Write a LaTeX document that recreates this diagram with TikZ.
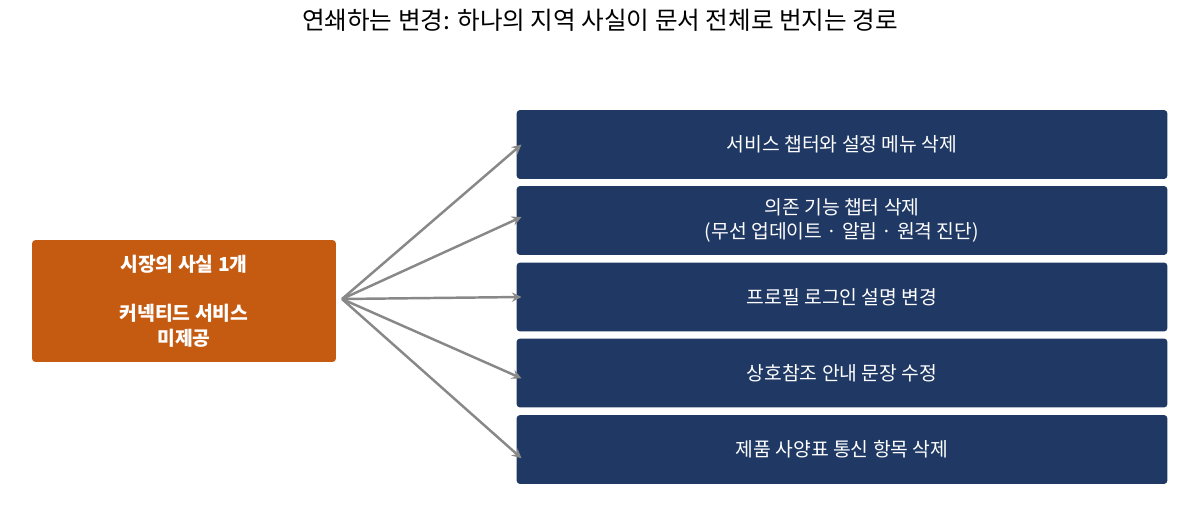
\documentclass[tikz,border=0pt]{standalone}
\usepackage{fontspec}
\setmainfont{Noto Sans CJK KR}
\usetikzlibrary{positioning}
\definecolor{factorange}{HTML}{C55A11}
\definecolor{effectnavy}{HTML}{1F3864}
\definecolor{linkgray}{HTML}{888888}
\tikzset{
  fact/.style={fill=factorange, rounded corners=2pt, text=white, font=\bfseries\fontsize{11}{14}\selectfont, align=center, minimum width=6.08cm, minimum height=2.44cm},
  effect/.style={fill=effectnavy, rounded corners=2pt, text=white, font=\fontsize{11}{14}\selectfont, align=center, minimum width=13.02cm, minimum height=1.38cm},
  spread/.style={draw=linkgray, line width=1.4pt, -stealth}
}
\begin{document}
\begin{tikzpicture}[x=0.02cm, y=-0.02cm]
				\useasboundingbox (0,0) rectangle (1200,510);
				\node[font=\fontsize{14}{17}\selectfont] (title) at (600,20) {연쇄하는 변경: 하나의 지역 사실이 문서 전체로 번지는 경로};
				
				\node[fact] (fact) at (184,301) {시장의 사실 1개\\[14pt]커넥티드 서비스\\미제공};
				\coordinate (hub) at (342,299);
				
				\node[effect] (e1) at (842,144.5) {서비스 챕터와 설정 메뉴 삭제};
				\node[effect] (e2) at (842,220.5) {의존 기능 챕터 삭제\\(무선 업데이트 · 알림 · 원격 진단)};
				\node[effect] (e3) at (842,297) {프로필 로그인 설명 변경};
				\node[effect] (e4) at (842,373) {상호참조 안내 문장 수정};
				\node[effect] (e5) at (842,449.5) {제품 사양표 통신 항목 삭제};
				
				\draw[spread] (hub) -- ([xshift=3]e1.west);
				\draw[spread] (hub) -- ([xshift=3,yshift=2]e2.west);
				\draw[spread] (hub) -- ([xshift=3]e3.west);
				\draw[spread] (hub) -- ([xshift=3,yshift=-3]e4.west);
				\draw[spread] (hub) -- ([xshift=3,yshift=-5]e5.west);
			\end{tikzpicture}
\end{document}
